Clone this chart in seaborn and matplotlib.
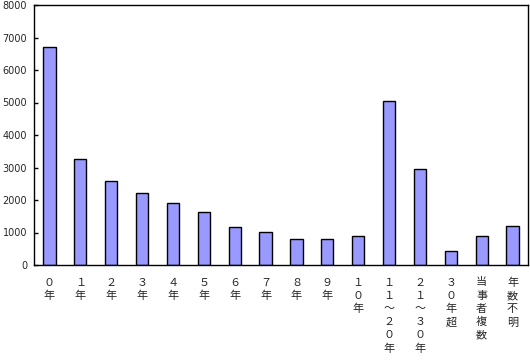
import matplotlib
matplotlib.use("Agg")
import matplotlib.pyplot as plt
import seaborn as sns

# categories and values
categories = ["０年", "１年", "２年", "３年", "４年", "５年", "６年", "７年", "８年", "９年",
              "１０年", "１１～２０年", "２１～３０年", "３０年超", "当事者複数", "年数不明"]
values = [6720, 3250, 2580, 2210, 1900, 1620, 1160, 1010, 790, 790,
          880, 5040, 2950, 420, 880, 1190]
yticks = [0, 1000, 2000, 3000, 4000, 5000, 6000, 7000, 8000]

sns.set_style("white")
plt.rcParams['font.family'] = ['Noto Sans CJK JP', 'DejaVu Sans']

fig = plt.figure(figsize=(5.3, 3.63), dpi=100)
ax = fig.add_axes([34 / 530, 1 - 265 / 363, 494 / 530, 260 / 363])

sns.barplot(x=list(range(len(values))), y=values, color="#9999FF", saturation=1,
            width=0.4, edgecolor="black", linewidth=1.0, ax=ax)

ax.set_xlim(-0.5, len(values) - 0.5)
ax.set_ylim(0, 8000)
ax.set_yticks(yticks)
ax.set_yticklabels([str(v) for v in yticks], fontsize=7, family="DejaVu Sans")

# vertical (stacked) category labels
ax.set_xticks(range(len(categories)))
ax.set_xticklabels(["\n".join(c) for c in categories], fontsize=8, linespacing=1.4,
                   va="top")
ax.set_xticks([i + 0.5 for i in range(len(categories) - 1)], minor=True)
ax.tick_params(axis="x", which="major", length=0, pad=9)
ax.tick_params(axis="x", which="minor", direction="in", length=3, width=1, color="black")
ax.tick_params(axis="y", direction="in", length=3, width=1, color="black", pad=5, left=True)

for s in ax.spines.values():
    s.set_visible(True)
    s.set_color("black")
    s.set_linewidth(1.0)
ax.set_xlabel("")
ax.set_ylabel("")

fig.savefig("out.png", dpi=100)
